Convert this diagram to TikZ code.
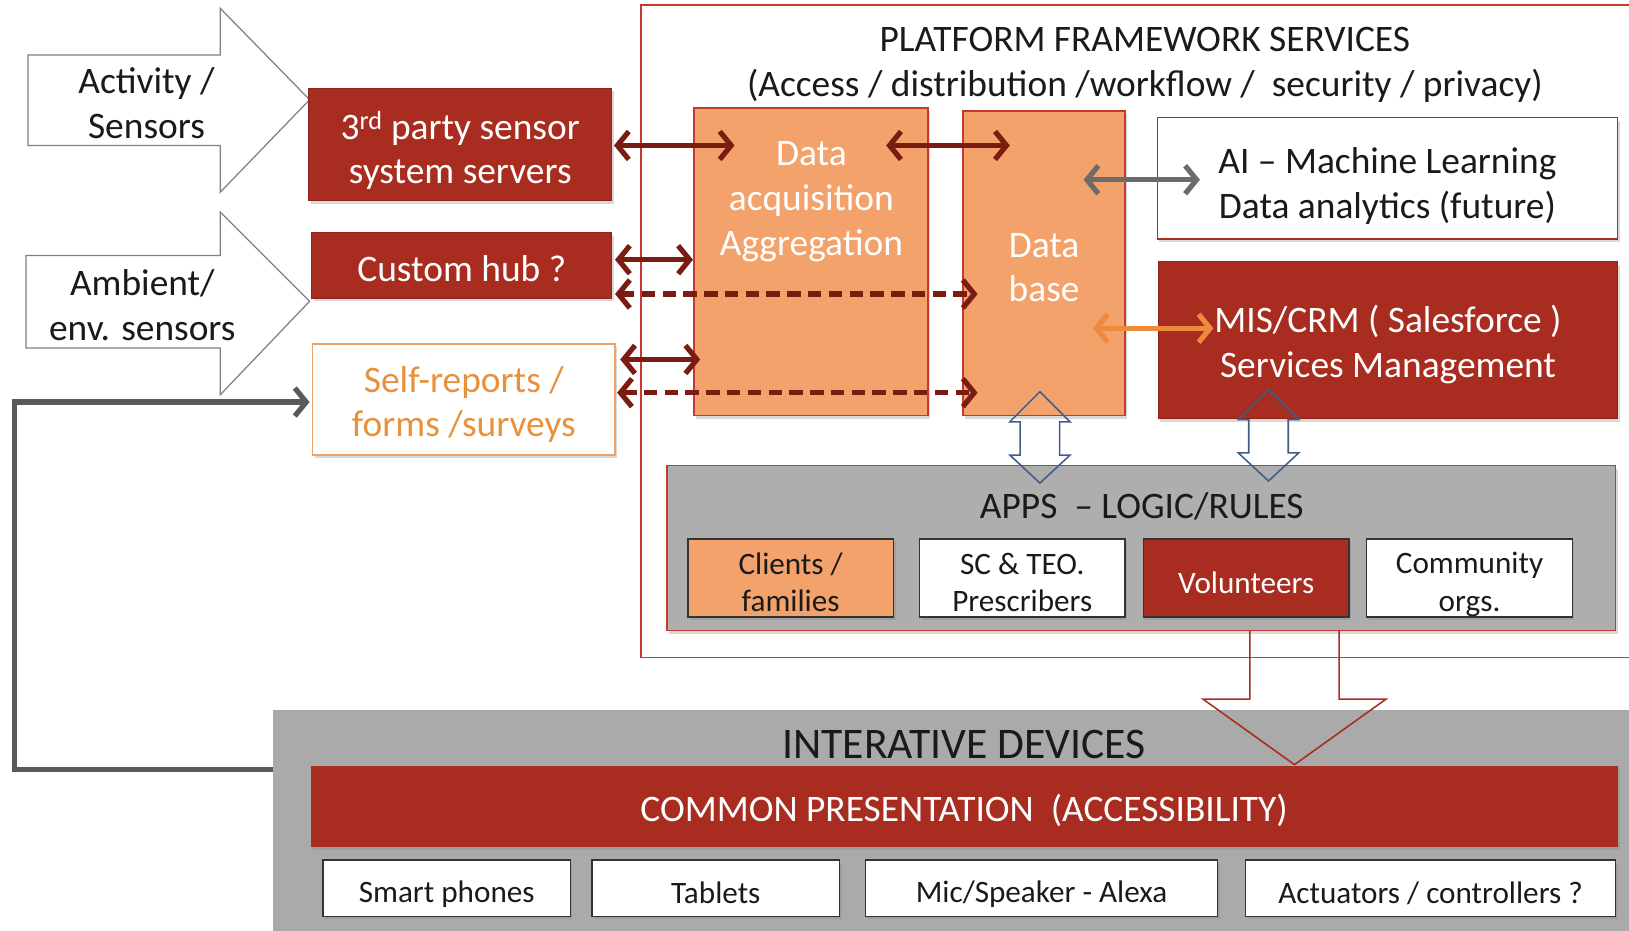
\documentclass[tikz,border=0pt]{standalone}
\usepackage{fontspec}
\setmainfont{Carlito}
\usetikzlibrary{arrows.meta,shadows}
\definecolor{dred}{HTML}{A82C1F}
\definecolor{ora}{HTML}{F3A26C}
\definecolor{conncol}{HTML}{7B1C12}
\definecolor{frm}{HTML}{C43A2E}
\definecolor{gbox}{HTML}{AEAEAE}
\definecolor{fbgray}{HTML}{5A5A5A}
\definecolor{orl}{HTML}{EE8A3C}
\definecolor{selftxt}{HTML}{E8913C}
\definecolor{hollowcol}{HTML}{3E5E88}
\definecolor{txt}{HTML}{1A1A1A}
\begin{document}
\begin{tikzpicture}[x=1pt,y=-1pt,
  every node/.style={inner sep=0pt, outer sep=0pt, align=center},
  big/.style={font=\fontsize{36}{43}\selectfont},
  small/.style={font=\fontsize{30}{36}\selectfont},
  shad/.style={drop shadow={opacity=0.3, shadow xshift=2pt, shadow yshift=-3pt}},
  redbox/.style={draw=dred!85!black, line width=1pt, fill=dred, shad},
  orabox/.style={draw=frm, line width=1.5pt, fill=ora, shad},
  whitebox/.style={draw=dred, line width=1.5pt, fill=white, shad},
  subbox/.style={draw=black!80, line width=1.5pt, minimum height=75pt, minimum width=198pt, shad},
  devbox/.style={draw=black!80, line width=1.5pt, fill=white, minimum height=54pt, shad},
  wt/.style={big, text=white},
  bt/.style={big, text=txt},
  sbt/.style={small, text=txt},
  swt/.style={small, text=white},
  inarrow/.style={draw=black!50, line width=1.2pt, fill=white},
  hollow/.style={draw=hollowcol, line width=1.5pt},
  conn/.style={draw=conncol, line width=5pt, <->},
  dconn/.style={conn, dash pattern=on 13pt off 7pt},
  >={Straight Barb[length=11pt,width=27pt]}
]
\useasboundingbox (0,0) rectangle (1568,896);

% input arrows
\draw[inarrow] (27,53) -- (212,53) -- (212,8) -- (298,96) -- (212,185) -- (212,140) -- (27,140) -- cycle;
\node[bt] (act) at (141,99) {Activity /\\Sensors};
\draw[inarrow] (25,246) -- (212,246) -- (212,204) -- (298,290) -- (212,380) -- (212,335) -- (25,335) -- cycle;
\node[bt] (amb) at (137,294) {Ambient/\\env. sensors};

% platform frame
\draw[frm, line width=1.5pt] (617,5) rectangle (1590,633);
\node[bt] (ptitle) at (1102,62.5) {PLATFORM FRAMEWORK SERVICES\\(Access / distribution /workflow /\ \ security / privacy)};

% left boxes
\node[redbox, minimum width=292pt, minimum height=108pt] (tp) at (443,139) {};
\node[wt] (tpt) at ([yshift=-6pt]tp.center) {3\textsuperscript{rd} party sensor\\system servers};
\node[redbox, minimum width=289pt, minimum height=63pt] (hub) at (444.5,255.5) {};
\node[wt] (hubt) at ([yshift=-3pt]hub.center) {Custom hub ?};
\node[draw=orl!80, line width=1.5pt, fill=white, shad, minimum width=291pt, minimum height=107pt] (self) at (446.5,384.5) {};
\node[big, text=selftxt] (selft) at ([yshift=-5pt]self.center) {Self-reports /\\forms /surveys};

% platform boxes
\node[orabox, minimum width=225pt, minimum height=296pt] (acq) at (780.5,252) {};
\node[wt] (acqt) at (781,194) {Data\\acquisition\\Aggregation};
\node[orabox, minimum width=156pt, minimum height=293pt] (db) at (1005,253.5) {};
\node[wt] (dbt) at (1005,257.5) {Data\\base};
\node[whitebox, minimum width=443pt, minimum height=117pt] (ai) at (1335.5,171.5) {};
\node[bt] (ait) at ([yshift=-7.5pt]ai.center) {AI – Machine Learning\\Data analytics (future)};
\node[redbox, minimum width=442pt, minimum height=151pt] (mis) at (1336,327.5) {};
\node[wt] (mist) at ([yshift=-4pt]mis.center) {MIS/CRM ( Salesforce )\\Services Management};

% apps
\node[draw=frm, line width=1.5pt, fill=gbox, minimum width=913pt, minimum height=159pt, shad] (apps) at (1098.5,527.5) {};
\node[bt] (appst) at (1099,487) {APPS\ \ – LOGIC/RULES};
\node[subbox, fill=ora] (cli) at (761,556.5) {};
\node[sbt] (clit) at ([yshift=-4pt]cli.center) {Clients /\\families};
\node[subbox, fill=white] (sc) at (984,556.5) {};
\node[sbt] (sct) at ([yshift=-4pt]sc.center) {SC \& TEO.\\Prescribers};
\node[subbox, fill=dred] (vol) at (1199.5,556.5) {};
\node[swt] (volt) at ([yshift=-4pt]vol.center) {Volunteers};
\node[subbox, fill=white] (com) at (1414.5,556.5) {};
\node[sbt] (comt) at ([yshift=-6pt]com.center) {Community\\orgs.};

% interactive devices
\node[fill=gbox!105, minimum width=1340pt, minimum height=240pt, anchor=north west] (inter) at (263,683) {};
\node[font=\fontsize{42}{48}\selectfont, text=txt] (intert) at (928,717) {INTERATIVE DEVICES};
\node[fill=dred, minimum width=1258pt, minimum height=78pt, shad] (common) at (928,776) {};
\node[wt] (commont) at ([yshift=-4pt]common.center) {COMMON PRESENTATION\ \ (ACCESSIBILITY)};
\node[devbox, minimum width=238pt] (phones) at (430,855) {};
\node[sbt] (phonest) at ([yshift=-6pt]phones.center) {Smart phones};
\node[devbox, minimum width=238pt] (tab) at (689,855) {};
\node[sbt] (tabt) at ([yshift=-4pt]tab.center) {Tablets};
\node[devbox, minimum width=339pt] (mic) at (1002.5,855) {};
\node[sbt] (mict) at ([yshift=-6pt]mic.center) {Mic/Speaker - Alexa};
\node[devbox, minimum width=356pt] (actu) at (1377,855) {};
\node[sbt] (actut) at ([yshift=-5pt]actu.center) {Actuators / controllers ?};

% hollow block arrows
\draw[hollow] (1001,377) -- (1030,406) -- (1020,406) -- (1020,438) -- (1030,438) -- (1001,465) -- (972,438) -- (982,438) -- (982,406) -- (972,406) -- cycle;
\draw[hollow] (1221,375) -- (1250,404) -- (1240,404) -- (1240,436) -- (1250,436) -- (1221,463) -- (1192,436) -- (1202,436) -- (1202,404) -- (1192,404) -- cycle;
\draw[draw=dred, line width=1.5pt] (1203,607) -- (1203,673) -- (1158,673) -- (1246,736) -- (1334,673) -- (1289,673) -- (1289,607);

% connectors
\draw[conn] ([xshift=2pt]tp.east |- 0,140) -- ([xshift=39pt]acq.west |- 0,140);
\draw[conn] ([xshift=-40pt]acq.east |- 0,140) -- ([xshift=45pt]db.west |- 0,140);
\draw[conn] ([xshift=3pt]hub.east |- 0,250) -- ([xshift=-1pt]acq.west |- 0,250);
\draw[dconn] ([xshift=3pt]hub.east |- 0,283) -- ([xshift=14pt]db.west |- 0,283);
\draw[conn] ([xshift=5pt]self.east |- 0,346) -- ([xshift=6pt]acq.west |- 0,346);
\draw[dconn] ([xshift=2pt]self.east |- 0,378) -- ([xshift=14pt]db.west |- 0,378);
\draw[conn, draw=fbgray!90] ([xshift=-40pt]db.east |- 0,173) -- ([xshift=41pt]ai.west |- 0,173);
\draw[conn, draw=orl] ([xshift=-31pt]db.east |- 0,316) -- ([xshift=53pt]mis.west |- 0,316);

% feedback line
\draw[draw=fbgray, line width=5pt, -{Straight Barb[length=11pt,width=27pt]}] (inter.west |- 0,741) -- ++(-249,0) |- ([xshift=-3pt]self.west |- 0,387);
\end{tikzpicture}
\end{document}
